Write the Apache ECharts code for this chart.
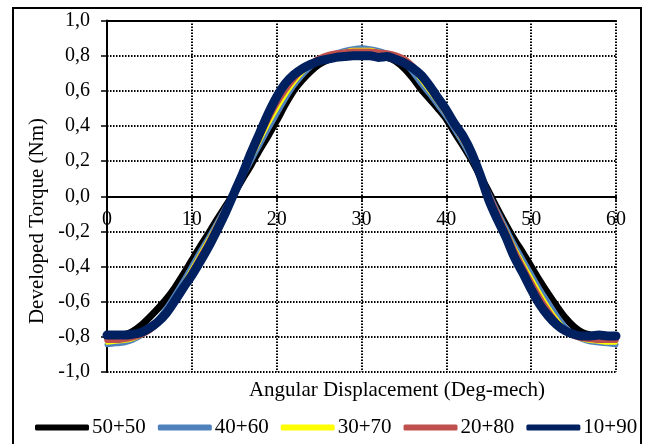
<!DOCTYPE html>
<html>
<head>
<meta charset="utf-8">
<title>Developed Torque</title>
<script src="https://cdn.jsdelivr.net/npm/echarts@6.0.0/dist/echarts.min.js"></script>
<style>
    html, body { margin: 0; padding: 0; background: #fff; }
    #myChart { width: 648px; height: 444px; }
</style>
</head>
<body>
<div id="myChart"></div>
<script>
// angular displacement (deg-mech)
let angle = [0,1,2,3,4,5,6,7,8,9,10,11,12,13,14,15,16,17,18,19,20,21,22,23,24,25,26,27,28,29,30,
    31,32,33,34,35,36,37,38,39,40,41,42,43,44,45,46,47,48,49,50,51,52,53,54,55,56,57,58,59,60];

// developed torque (Nm)
let t5050 = [-0.80,-0.80,-0.79,-0.77,-0.735,-0.69,-0.64,-0.585,-0.52,-0.445,-0.365,-0.285,-0.21,-0.13,-0.055,0.02,
    0.10,0.18,0.265,0.345,0.43,0.52,0.60,0.66,0.71,0.75,0.775,0.79,0.80,0.805,0.805,0.805,0.80,0.79,0.77,0.73,
    0.675,0.61,0.555,0.50,0.44,0.36,0.285,0.205,0.115,0.025,-0.07,-0.16,-0.245,-0.32,-0.40,-0.48,-0.555,-0.625,
    -0.69,-0.74,-0.775,-0.79,-0.80,-0.80,-0.80];
let t4060 = [-0.845,-0.84,-0.835,-0.82,-0.795,-0.755,-0.70,-0.635,-0.56,-0.48,-0.395,-0.31,-0.23,-0.145,-0.06,0.025,
    0.11,0.20,0.29,0.38,0.465,0.55,0.625,0.685,0.735,0.77,0.795,0.815,0.83,0.84,0.845,0.84,0.83,0.815,0.795,0.76,
    0.705,0.64,0.58,0.515,0.45,0.375,0.295,0.21,0.115,0.02,-0.08,-0.175,-0.27,-0.355,-0.44,-0.525,-0.60,-0.675,
    -0.74,-0.785,-0.815,-0.83,-0.835,-0.84,-0.845];
let t3070 = [-0.835,-0.83,-0.825,-0.815,-0.795,-0.765,-0.715,-0.65,-0.575,-0.495,-0.41,-0.325,-0.24,-0.15,-0.06,0.03,
    0.12,0.215,0.31,0.405,0.49,0.57,0.64,0.70,0.745,0.78,0.80,0.815,0.825,0.835,0.835,0.835,0.825,0.815,0.80,0.775,
    0.725,0.66,0.595,0.53,0.46,0.385,0.305,0.22,0.12,0.015,-0.085,-0.185,-0.285,-0.375,-0.46,-0.545,-0.625,-0.695,
    -0.755,-0.795,-0.815,-0.825,-0.83,-0.835,-0.835];
let t2080 = [-0.82,-0.82,-0.815,-0.805,-0.79,-0.765,-0.725,-0.665,-0.59,-0.51,-0.43,-0.345,-0.26,-0.165,-0.07,0.03,
    0.125,0.23,0.335,0.435,0.525,0.60,0.665,0.715,0.755,0.785,0.805,0.815,0.82,0.825,0.825,0.825,0.82,0.815,0.805,0.785,
    0.745,0.68,0.615,0.545,0.475,0.395,0.32,0.23,0.12,0.01,-0.095,-0.20,-0.305,-0.40,-0.49,-0.575,-0.65,-0.715,
    -0.765,-0.795,-0.81,-0.815,-0.82,-0.82,-0.82];
let t1090 = [-0.79,-0.79,-0.79,-0.785,-0.775,-0.75,-0.715,-0.665,-0.595,-0.52,-0.45,-0.37,-0.285,-0.19,-0.09,0.02,
    0.13,0.25,0.36,0.47,0.565,0.64,0.69,0.725,0.75,0.77,0.78,0.79,0.795,0.80,0.80,0.80,0.79,0.795,0.78,0.76,
    0.73,0.69,0.63,0.56,0.49,0.41,0.34,0.245,0.12,-0.02,-0.13,-0.23,-0.345,-0.435,-0.53,-0.615,-0.68,-0.73,
    -0.765,-0.785,-0.795,-0.795,-0.79,-0.795,-0.795];

let seriesNames = ['50+50', '40+60', '30+70', '20+80', '10+90'];
let seriesData = [t5050, t4060, t3070, t2080, t1090];
let colors = ['#000000', '#4f81bd', '#ffff00', '#c0504d', '#002060'];
let widths = [7, 5, 3.5, 5.5, 9];

let font = 'Liberation Serif, Times New Roman, serif';

let gridTop = 20.5;
let gridBottom = 72;
let plotHeight = 444 - gridTop - gridBottom;

let myChart = echarts.init(document.getElementById('myChart'));

let gridDots = {
    lineStyle: {
        color: '#000',
        type: [1.5, 1.5],
        width: 2
    }
};

let series = seriesData.map((vals, i) => ({
    name: seriesNames[i],
    type: 'line',
    xAxisIndex: 0,
    yAxisIndex: 0,
    showSymbol: false,
    smooth: 0.3,
    color: colors[i],
    lineStyle: { color: colors[i], width: widths[i], cap: 'round', join: 'round' },
    data: angle.map((a, k) => [a, vals[k]])
}));

let option = {
    animation: false,
    backgroundColor: '#fff',
    grid: {
        left: 107,
        right: 32,
        top: gridTop,
        bottom: gridBottom
    },
    legend: {
        data: seriesNames,
        left: 30,
        top: 412,
        icon: 'roundRect',
        itemWidth: 54,
        itemHeight: 6,
        itemGap: 12,
        textStyle: {
            color: '#000',
            fontFamily: font,
            fontSize: 21,
            padding: [0, 0, 0, -2]
        }
    },
    xAxis: [{
        // axis sits on the 0,0 line (y range is symmetric)
        type: 'value',
        position: 'bottom',
        offset: -plotHeight / 2,
        min: 0,
        max: 60,
        interval: 10,
        axisLine: {
            onZero: false,
            lineStyle: { color: '#000', width: 2 }
        },
        axisTick: {
            show: true,
            length: 5,
            lineStyle: { color: '#000', width: 1.5 }
        },
        axisLabel: {
            color: '#000',
            fontFamily: font,
            fontSize: 20,
            margin: 13
        },
        splitLine: gridDots
    }, {
        // solid line along the top of the plot
        type: 'value',
        position: 'top',
        min: 0,
        max: 60,
        axisLine: {
            onZero: false,
            lineStyle: { color: '#000', width: 2 }
        },
        axisTick: { show: false },
        axisLabel: { show: false },
        splitLine: { show: false }
    }],
    yAxis: {
        type: 'value',
        min: -1,
        max: 1,
        interval: 0.2,
        axisLine: {
            show: true,
            onZero: false,
            lineStyle: { color: '#000', width: 2 }
        },
        axisTick: {
            show: true,
            length: 6,
            lineStyle: { color: '#000', width: 1.5 }
        },
        axisLabel: {
            color: '#000',
            fontFamily: font,
            fontSize: 20,
            margin: 17,
            formatter: (v) => v.toFixed(1).replace('.', ',')
        },
        splitLine: gridDots
    },
    graphic: [{
        type: 'rect',
        shape: { x: 13, y: 8, width: 628, height: 460 },
        style: { fill: 'none', stroke: '#000', lineWidth: 2 },
        silent: true,
        z: -1
    }, {
        type: 'text',
        x: 397,
        y: 390,
        style: {
            text: 'Angular Displacement (Deg-mech)',
            font: '21px ' + font,
            fill: '#000',
            align: 'center',
            verticalAlign: 'middle'
        }
    }, {
        type: 'text',
        x: 37,
        y: 221,
        rotation: Math.PI / 2,
        style: {
            text: 'Developed Torque (Nm)',
            font: '21px ' + font,
            fill: '#000',
            align: 'center',
            verticalAlign: 'middle'
        }
    }],
    series: series
};

myChart.setOption(option);
</script>
</body>
</html>
